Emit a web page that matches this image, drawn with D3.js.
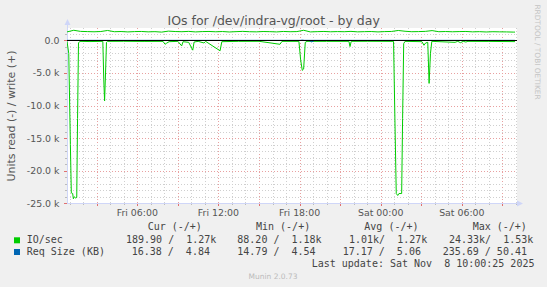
<!DOCTYPE html>
<html><head><meta charset="utf-8">
<script src="https://cdn.jsdelivr.net/npm/d3@7"></script>
<style>
html,body{margin:0;padding:0;background:#f0f0f0;}
svg{display:block;}
</style></head>
<body>
<svg id="chart" width="547" height="287"></svg>
<script>
// ---- data (hours since Fri 2025-11-07 00:00) ----
const title = "IOs for /dev/indra-vg/root - by day";
const yTitle = "Units read (-) / write (+)";
const yTickValues = [0, -5000, -10000, -15000, -20000, -25000];
const yTickLabels = ["0.0", "-5.0 k", "-10.0 k", "-15.0 k", "-20.0 k", "-25.0 k"];
const xLabelHours = [6, 12, 18, 24, 30];
const xLabels = ["Fri 06:00", "Fri 12:00", "Fri 18:00", "Sat 00:00", "Sat 06:00"];

// IO/sec read (drawn negative)
const readHours = [0.80,0.93,1.05,1.12,1.22,1.27,1.35,1.45,1.52,1.58,1.65,1.75,2.5,3.45,3.52,3.58,3.65,3.72,3.80,
  5.0,6.5,7.9,8.05,8.15,8.35,9.0,9.28,9.38,9.8,10.1,10.2,10.5,10.93,11.05,12.12,12.25,13.5,15.0,16.55,16.7,
  17.95,18.08,18.2,18.3,18.42,18.55,20.0,21.65,21.73,21.82,23.0,24.95,25.05,25.15,25.26,25.35,25.55,25.62,25.70,25.80,
  27.05,27.2,27.32,27.48,27.58,27.68,27.78,29.5,29.7,29.9,30.1,30.3,30.45,32.0,33.93];
const readValues = [150,2000,16000,23400,23500,24300,24000,24200,24100,12000,400,150,180,150,6000,9300,5000,300,150,
  140,160,150,600,450,200,150,850,200,300,1500,250,150,400,150,1600,200,150,140,600,150,
  150,3000,4600,4400,300,150,150,150,950,150,140,150,12000,23500,23800,23500,23500,12000,500,150,
  200,750,400,300,6600,2000,150,300,150,350,150,250,150,160,190];

// IO/sec write (positive), every 0.5 h from 0.8 h
const writeStart = 0.8, writeStep = 0.5;
const writeValues = [1300,1550,1380,1350,1320,1360,1520,1330,1360,1300,1350,1370,1310,1340,1270,1420,1360,1330,1380,1300,
  1350,1370,1320,1360,1290,1340,1380,1330,1310,1360,1340,1300,1370,1330,1350,1550,1300,1340,1370,1320,
  1350,1330,1380,1310,1340,1360,1300,1350,1370,1520,1400,1330,1350,1380,1500,1330,1360,1320,1350,1370,
  1310,1340,1290,1330,1310,1300,1270];

// Req Size (KB)
const reqReadHours = [0.80, 18.7, 18.9, 19.1, 33.93];
const reqReadValues = [16, 16, 235.69, 16, 16.38];
const reqWriteHours = [0.80, 18.05, 18.2, 18.35, 33.93];
const reqWriteValues = [5, 5, 50.41, 5, 4.84];

// legend
const legendHeaders = ["Cur (-/+)", "Min (-/+)", "Avg (-/+)", "Max (-/+)"];
const legendNames = ["IO/sec", "Req Size (KB)"];
const legendColors = ["#00cc00", "#0066b3"];
const legendRow1 = ["189.90 /  1.27k", "88.20 /  1.18k", "1.01k/  1.27k", "24.33k/  1.53k"];
const legendRow2 = ["16.38 /  4.84", "14.79 /  4.54", "17.17 /  5.06", "235.69 / 50.41"];
const lastUpdate = "Last update: Sat Nov  8 10:00:25 2025";

// ---- drawing ----
const svg = d3.select("#chart");
const base = new Date(2025, 10, 7, 0, 0, 0);
const hToDate = h => new Date(base.getTime() + h * 3600e3);

const L = 67, R = 517, T = 28, B = 203.3;
const x = d3.scaleTime().domain([hToDate(0.80), hToDate(34.08)]).range([L, R]);
const y = d3.scaleLinear().domain([-25000, 1900]).range([B, T]);
const px = v => Math.round(v) + 0.5;

svg.append("rect").attr("x", 0).attr("y", 0).attr("width", 547).attr("height", 287).attr("fill", "#f0f0f0");
svg.append("rect").attr("x", L).attr("y", T).attr("width", R - L).attr("height", B - T).attr("fill", "#ffffff");

const grid = svg.append("g").attr("shape-rendering", "crispEdges");
// vertical grid
const hourTicks = x.ticks(d3.timeHour.every(1));
hourTicks.forEach(d => {
  const major = d.getHours() % 3 === 0;
  grid.append("line").attr("x1", px(x(d))).attr("x2", px(x(d))).attr("y1", T).attr("y2", B)
    .attr("stroke", major ? "#e8a0a0" : "#cfcfcf").attr("stroke-dasharray", "1,2");
  grid.append("line").attr("x1", px(x(d))).attr("x2", px(x(d))).attr("y1", Math.round(B)).attr("y2", Math.round(B) + (major ? 3 : 2))
    .attr("stroke", major ? "#e07070" : "#bbbbbb");
});
// horizontal grid
const yMinor = d3.range(-25000, 1901, 1000);
yMinor.forEach(v => {
  const major = v % 5000 === 0;
  grid.append("line").attr("x1", L).attr("x2", R).attr("y1", px(y(v))).attr("y2", px(y(v)))
    .attr("stroke", major ? "#e8a0a0" : "#cfcfcf").attr("stroke-dasharray", "1,2");
  grid.append("line").attr("x1", L - (major ? 3 : 2)).attr("x2", L).attr("y1", px(y(v))).attr("y2", px(y(v)))
    .attr("stroke", major ? "#e07070" : "#bbbbbb");
});

// axes lines
grid.append("line").attr("x1", L + 0.5).attr("x2", L + 0.5).attr("y1", 22).attr("y2", Math.round(B) + 0.5).attr("stroke", "#cfd6f8");
grid.append("line").attr("x1", L).attr("x2", 520).attr("y1", Math.round(B) + 0.5).attr("y2", Math.round(B) + 0.5).attr("stroke", "#cfd6f8");
svg.append("path").attr("d", `M${L - 2.5},25 L${L + 0.5},19 L${L + 3.5},25 Z`).attr("fill", "#cfd6f8");
svg.append("path").attr("d", `M517,${Math.round(B) - 2.5} L523,${Math.round(B) + 0.5} L517,${Math.round(B) + 3.5} Z`).attr("fill", "#cfd6f8");

// series
const clip = svg.append("defs").append("clipPath").attr("id", "clip");
clip.append("rect").attr("x", L).attr("y", T).attr("width", R - L).attr("height", B - T + 1);
const plot = svg.append("g").attr("clip-path", "url(#clip)");

const line = d3.line().x(d => x(hToDate(d[0]))).y(d => y(d[1]));
const readPts = readHours.map((h, i) => [h, -readValues[i]]);
const writePts = writeValues.map((v, i) => [writeStart + i * writeStep, v]);
writePts.push([33.93, 1270]);
const rqR = reqReadHours.map((h, i) => [h, -reqReadValues[i]]);
const rqW = reqWriteHours.map((h, i) => [h, reqWriteValues[i]]);

plot.append("path").attr("d", line(readPts)).attr("fill", "none").attr("stroke", "#00cc00").attr("stroke-width", 1);
plot.append("path").attr("d", line(writePts)).attr("fill", "none").attr("stroke", "#00cc00").attr("stroke-width", 1);
plot.append("path").attr("d", line(rqR)).attr("fill", "none").attr("stroke", "#0066b3").attr("stroke-width", 1);
plot.append("path").attr("d", line(rqW)).attr("fill", "none").attr("stroke", "#0066b3").attr("stroke-width", 1);
// zero line
svg.append("line").attr("x1", L).attr("x2", R).attr("y1", px(y(0))).attr("y2", px(y(0)))
  .attr("stroke", "#000").attr("shape-rendering", "crispEdges");

// text
const sans = "DejaVu Sans, sans-serif";
const mono = "DejaVu Sans Mono, monospace";
svg.append("text").attr("x", 273.7).attr("y", 24.5).attr("text-anchor", "middle")
  .attr("font-family", sans).attr("font-size", 12.5).attr("fill", "#555").text(title);
svg.append("text").attr("transform", "translate(14.5,116) rotate(-90)").attr("text-anchor", "middle")
  .attr("font-family", sans).attr("font-size", 10.9).attr("fill", "#555").text(yTitle);
svg.append("text").attr("transform", "translate(535,52) rotate(90)").attr("text-anchor", "middle")
  .attr("font-family", sans).attr("font-size", 7.4).attr("fill", "#c4c4c4").text("RRDTOOL / TOBI OETIKER");

yTickValues.forEach((v, i) => {
  svg.append("text").attr("x", 59.5).attr("y", y(v) + 3.5).attr("text-anchor", "end")
    .attr("font-family", sans).attr("font-size", 9.4).attr("fill", "#555").text(yTickLabels[i]);
});
xLabelHours.forEach((h, i) => {
  svg.append("text").attr("x", x(hToDate(h))).attr("y", 215.5).attr("text-anchor", "middle")
    .attr("font-family", sans).attr("font-size", 9.4).attr("fill", "#555").text(xLabels[i]);
});

// legend
const hdrX = [147.7, 256, 364.3, 472.7];
const r1X = [126, 237.3, 349, 449];
const r2X = [131.7, 237.3, 342.7, 442.7];
const lg = svg.append("g").attr("font-family", mono).attr("font-size", 10).attr("fill", "#444")
  .style("white-space", "pre");
legendHeaders.forEach((t, i) => lg.append("text").attr("x", hdrX[i]).attr("y", 230).attr("xml:space", "preserve").text(t));
legendNames.forEach((t, i) => {
  const yy = 243.3 + i * 11.7;
  svg.append("rect").attr("x", 14).attr("y", yy - 6).attr("width", 6).attr("height", 6).attr("fill", legendColors[i]);
  lg.append("text").attr("x", 26.7).attr("y", yy).text(t);
});
legendRow1.forEach((t, i) => lg.append("text").attr("x", r1X[i]).attr("y", 243.3).attr("xml:space", "preserve").text(t));
legendRow2.forEach((t, i) => lg.append("text").attr("x", r2X[i]).attr("y", 255).attr("xml:space", "preserve").text(t));
lg.append("text").attr("x", 311.7).attr("y", 266.7).attr("xml:space", "preserve").text(lastUpdate);

svg.append("text").attr("x", 273).attr("y", 279).attr("text-anchor", "middle")
  .attr("font-family", sans).attr("font-size", 7.5).attr("fill", "#bbb").text("Munin 2.0.73");
</script>
</body></html>
